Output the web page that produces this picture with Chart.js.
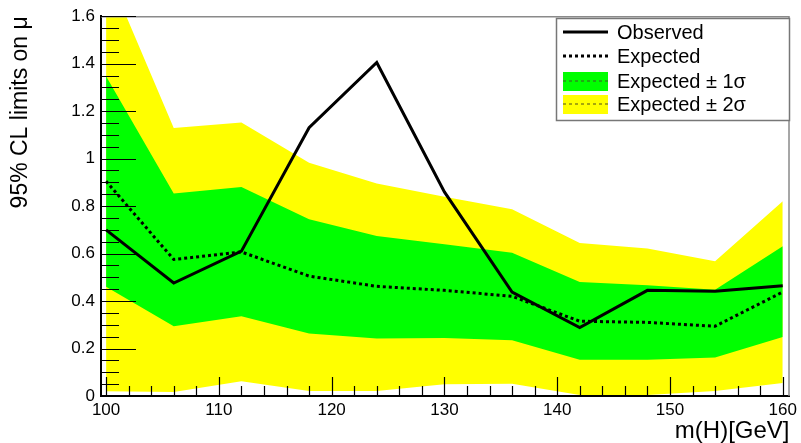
<!DOCTYPE html>
<html>
<head>
<meta charset="utf-8">
<script src="https://cdn.jsdelivr.net/npm/chart.js@4.4.1/dist/chart.umd.min.js"></script>
<style>
  html, body { margin: 0; padding: 0; background: #fff; }
  #wrap { width: 801px; height: 443px; }
</style>
</head>
<body>
<div id="wrap"><canvas id="limitChart" width="801" height="443"></canvas></div>
<script>
// Higgs mass points and limits
var masses = [100, 106, 112, 118, 124, 130, 136, 142, 148, 154, 160];
var observed = [0.70, 0.476, 0.61, 1.13, 1.405, 0.86, 0.438, 0.288, 0.445, 0.441, 0.464];
var expected = [0.905, 0.575, 0.607, 0.505, 0.462, 0.445, 0.42, 0.315, 0.31, 0.294, 0.438];
var band1Up = [1.347, 0.853, 0.88, 0.745, 0.674, 0.639, 0.603, 0.48, 0.467, 0.448, 0.631];
var band1Down = [0.46, 0.294, 0.336, 0.263, 0.242, 0.244, 0.235, 0.153, 0.153, 0.162, 0.249];
var band2Up = [1.80, 1.129, 1.152, 0.983, 0.895, 0.839, 0.787, 0.645, 0.621, 0.568, 0.82];
var band2Down = [0.02, 0.017, 0.062, 0.021, 0.021, 0.049, 0.052, 0.004, 0.004, 0.021, 0.055];

var xTicks = [100, 110, 120, 130, 140, 150, 160];
var yTicks = [0, 0.2, 0.4, 0.6, 0.8, 1, 1.2, 1.4, 1.6];
var legendLabels = ['Observed', 'Expected', 'Expected \u00b1 1\u03c3', 'Expected \u00b1 2\u03c3'];

var FONT = "'Liberation Sans', Arial, sans-serif";

function pts(arr) {
  return masses.map(function (m, i) { return { x: m, y: arr[i] }; });
}

// ROOT style ticks drawn inward + grey top/right frame
const frameTicks = {
  id: 'frameTicks',
  afterDatasetsDraw(chart) {
    const ctx = chart.ctx, a = chart.chartArea, x = chart.scales.x, y = chart.scales.y;
    ctx.save();
    ctx.strokeStyle = '#8a8a8a';
    ctx.lineWidth = 1.5;
    ctx.beginPath();
    ctx.moveTo(a.left, a.top + 0.5);
    ctx.lineTo(a.right - 0.5, a.top + 0.5);
    ctx.lineTo(a.right - 0.5, a.bottom);
    ctx.stroke();

    ctx.strokeStyle = '#000';
    ctx.lineWidth = 1.2;
    ctx.beginPath();
    for (let i = 0; i <= 32; i++) {
      const py = Math.round(y.getPixelForValue(i * 0.05)) + 0.5;
      const len = (i % 4 === 0) ? 35 : 18;
      ctx.moveTo(a.left, py);
      ctx.lineTo(a.left + len, py);
    }
    for (let m = 100; m <= 160; m += 2) {
      const px = Math.round(x.getPixelForValue(m)) + 0.5;
      const len = (m % 10 === 0) ? 19 : 10;
      ctx.moveTo(px, a.bottom);
      ctx.lineTo(px, a.bottom - len);
    }
    ctx.stroke();
    ctx.restore();
  }
};

// legend box in the top right corner, like TLegend
const rootLegend = {
  id: 'rootLegend',
  afterDraw(chart) {
    const ctx = chart.ctx;
    const bx = 556, by = 18, bw = 233, bh = 102;
    ctx.save();
    ctx.fillStyle = '#fff';
    ctx.fillRect(bx, by, bw, bh);
    ctx.strokeStyle = '#777';
    ctx.lineWidth = 1.5;
    ctx.strokeRect(bx + 0.5, by + 0.5, bw, bh);

    const rows = [32, 56, 81, 104];
    const x0 = 563, x1 = 608;
    // observed
    ctx.strokeStyle = '#000';
    ctx.lineWidth = 3;
    ctx.beginPath(); ctx.moveTo(x0, rows[0]); ctx.lineTo(x1, rows[0]); ctx.stroke();
    // expected
    ctx.setLineDash([3, 3]);
    ctx.beginPath(); ctx.moveTo(x0, rows[1]); ctx.lineTo(x1, rows[1]); ctx.stroke();
    // bands
    ctx.fillStyle = '#00ff00';
    ctx.fillRect(x0, rows[2] - 9, x1 - x0, 19);
    ctx.fillStyle = '#ffff00';
    ctx.fillRect(x0, rows[3] - 9, x1 - x0, 19);
    ctx.lineWidth = 1.5;
    ctx.setLineDash([3, 3]);
    ctx.strokeStyle = '#2e8a1e';
    ctx.beginPath(); ctx.moveTo(x0, rows[2]); ctx.lineTo(x1, rows[2]); ctx.stroke();
    ctx.strokeStyle = '#8a8a10';
    ctx.beginPath(); ctx.moveTo(x0, rows[3]); ctx.lineTo(x1, rows[3]); ctx.stroke();
    ctx.setLineDash([]);

    ctx.fillStyle = '#000';
    ctx.font = '20px ' + FONT;
    ctx.textBaseline = 'middle';
    ctx.textAlign = 'left';
    legendLabels.forEach(function (t, i) { ctx.fillText(t, 617, rows[i] + 1); });
    ctx.restore();
  }
};

var ctx = document.getElementById('limitChart').getContext('2d');
var limitChart = new Chart(ctx, {
  type: 'line',
  data: {
    datasets: [{
      label: legendLabels[0],
      data: pts(observed),
      borderColor: '#000',
      borderWidth: 3,
      fill: false,
      order: 0
    }, {
      label: legendLabels[1],
      data: pts(expected),
      borderColor: '#000',
      borderWidth: 3,
      borderDash: [3, 3],
      fill: false,
      order: 1
    }, {
      label: legendLabels[2],
      data: pts(band1Up),
      borderWidth: 0,
      borderColor: 'rgba(0,0,0,0)',
      backgroundColor: '#00ff00',
      fill: '+1',
      order: 2
    }, {
      label: 'band1Down',
      data: pts(band1Down),
      borderWidth: 0,
      borderColor: 'rgba(0,0,0,0)',
      fill: false,
      order: 2
    }, {
      label: legendLabels[3],
      data: pts(band2Up),
      borderWidth: 0,
      borderColor: 'rgba(0,0,0,0)',
      backgroundColor: '#ffff00',
      fill: '+1',
      order: 3
    }, {
      label: 'band2Down',
      data: pts(band2Down),
      borderWidth: 0,
      borderColor: 'rgba(0,0,0,0)',
      fill: false,
      order: 3
    }]
  },
  options: {
    responsive: false,
    animation: false,
    devicePixelRatio: 1,
    layout: { padding: { left: 0, top: 16, right: 8, bottom: 0 } },
    elements: { point: { radius: 0 }, line: { tension: 0 } },
    plugins: {
      legend: { display: false },
      tooltip: { enabled: false }
    },
    scales: {
      x: {
        type: 'linear',
        min: 99.55,
        max: 160.6,
        afterFit: function (s) { s.height = 47; },
        afterBuildTicks: function (s) { s.ticks = xTicks.map(function (v) { return { value: v }; }); },
        grid: { display: false, drawTicks: false },
        border: { display: true, color: '#000', width: 2 },
        ticks: {
          autoSkip: false, maxRotation: 0, padding: 4,
          color: '#000',
          font: { family: FONT, size: 17 }
        },
        title: {
          display: true, text: 'm(H)[GeV]', align: 'end', color: '#000',
          font: { family: FONT, size: 24, lineHeight: 1 },
          padding: { top: 0, bottom: 0 }
        }
      },
      y: {
        min: 0,
        max: 1.6,
        afterFit: function (s) { s.width = 101; },
        afterBuildTicks: function (s) { s.ticks = yTicks.map(function (v) { return { value: v }; }); },
        grid: { display: false, drawTicks: false },
        border: { display: true, color: '#000', width: 2 },
        ticks: {
          padding: 6,
          color: '#000',
          font: { family: FONT, size: 17 },
          callback: function (v) { return String(Math.round(v * 10) / 10); }
        },
        title: {
          display: true, text: '95% CL limits on \u03bc', align: 'end', color: '#000',
          font: { family: FONT, size: 23, lineHeight: 1.2 },
          padding: { top: 7, bottom: 0 }
        }
      }
    }
  },
  plugins: [frameTicks, rootLegend]
});
</script>
</body>
</html>
